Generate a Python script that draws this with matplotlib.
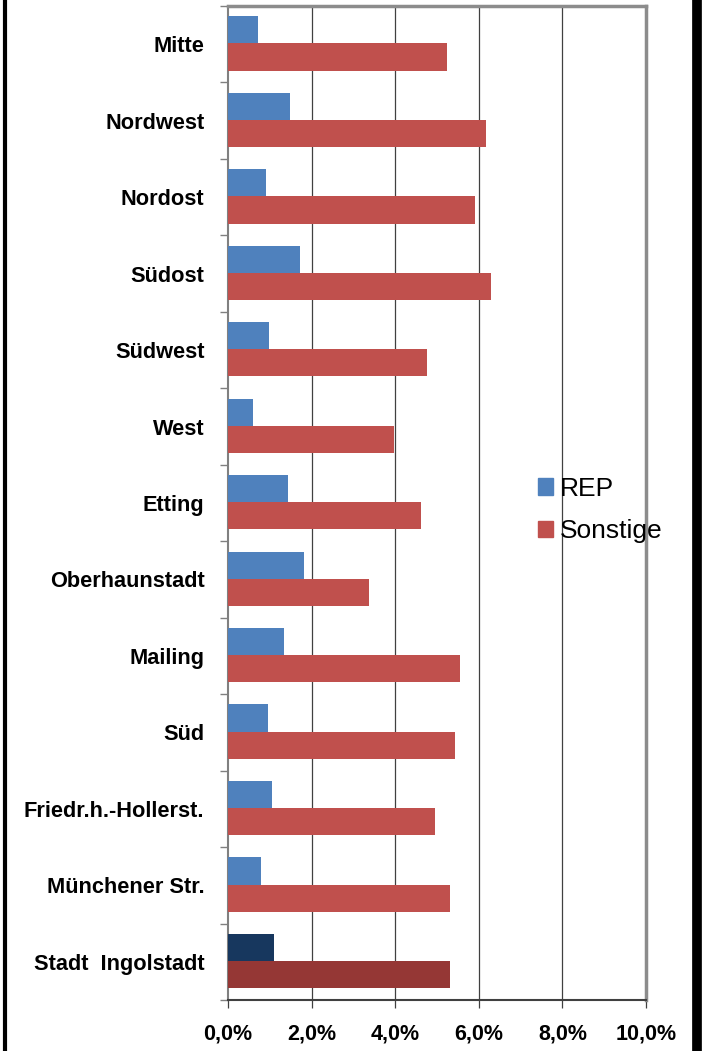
import matplotlib.pyplot as plt
import numpy as np
from matplotlib.lines import Line2D
from matplotlib.patches import Patch

plt.rcParams['font.family'] = ['Liberation Sans', 'DejaVu Sans']

# Daten (Anteil in %)
stadtteile = ['Mitte', 'Nordwest', 'Nordost', 'Südost', 'Südwest', 'West', 'Etting',
              'Oberhaunstadt', 'Mailing', 'Süd', 'Friedr.h.-Hollerst.',
              'Münchener Str.', 'Stadt  Ingolstadt']
rep = [0.72, 1.48, 0.91, 1.72, 0.98, 0.60, 1.43, 1.81, 1.34, 0.95, 1.05, 0.79, 1.10]
sonstige = [5.23, 6.18, 5.92, 6.28, 4.75, 3.96, 4.61, 3.37, 5.56, 5.42, 4.96, 5.32, 5.32]
x_ticks = [0, 2, 4, 6, 8, 10]
x_labels = ['0,0%', '2,0%', '4,0%', '6,0%', '8,0%', '10,0%']

blau = '#4f81bd'
rot = '#c0504d'
blau_dunkel = '#17375e'
rot_dunkel = '#953735'

fig = plt.figure(figsize=(7.02, 10.51), dpi=100)
ax = fig.add_axes([228 / 702, 1 - 1000 / 1051, (646 - 228) / 702, (1000 - 6) / 1051])

n = len(stadtteile)
y = np.arange(n)
h = 0.355
farben_rep = [blau] * (n - 1) + [blau_dunkel]
farben_son = [rot] * (n - 1) + [rot_dunkel]
ax.barh(y - h / 2 - 0.01, rep, height=h, color=farben_rep, zorder=3)
ax.barh(y + h / 2 - 0.01, sonstige, height=h, color=farben_son, zorder=3)

ax.set_xlim(0, 10)
ax.set_ylim(n - 0.5, -0.5)

# Gitterlinien
for xv in x_ticks[1:-1]:
    ax.axvline(xv, color='#404040', lw=0.9, zorder=1)

ax.set_xticks(x_ticks)
ax.set_xticklabels(x_labels, fontsize=15.5, fontweight='bold')
ax.tick_params(axis='x', length=6, width=0.9, color='#404040', direction='out', pad=11)

ax.set_yticks(y)
ax.set_yticklabels(stadtteile, fontsize=15.7, fontweight='bold')
ax.tick_params(axis='y', length=0, pad=17)
ax.set_yticks(np.arange(n + 1) - 0.5, minor=True)
ax.tick_params(axis='y', which='minor', length=6, width=1, color='#808080')

ax.spines['left'].set_color('#808080')
ax.spines['left'].set_linewidth(1.5)
ax.spines['bottom'].set_color('#404040')
ax.spines['bottom'].set_linewidth(1.5)
ax.spines['top'].set_color('#8c8c8c')
ax.spines['top'].set_linewidth(2.5)
ax.spines['right'].set_color('#8c8c8c')
ax.spines['right'].set_linewidth(2.5)

# Legende
handles = [Patch(color=blau, label='REP'), Patch(color=rot, label='Sonstige')]
fig.legend(handles=handles, loc='center left', bbox_to_anchor=(527 / 702, 1 - 510 / 1051),
           frameon=False, fontsize=19, handlelength=0.6, handleheight=0.6,
           handletextpad=0.25, labelspacing=0.7, borderaxespad=0)

# schwarzer Rahmen links und rechts
fig.add_artist(Line2D([5 / 702, 5 / 702], [0, 1], color='black', lw=3, transform=fig.transFigure))
fig.add_artist(Line2D([697 / 702, 697 / 702], [0, 1], color='black', lw=7, transform=fig.transFigure))

fig.savefig('out.png', dpi=100)
